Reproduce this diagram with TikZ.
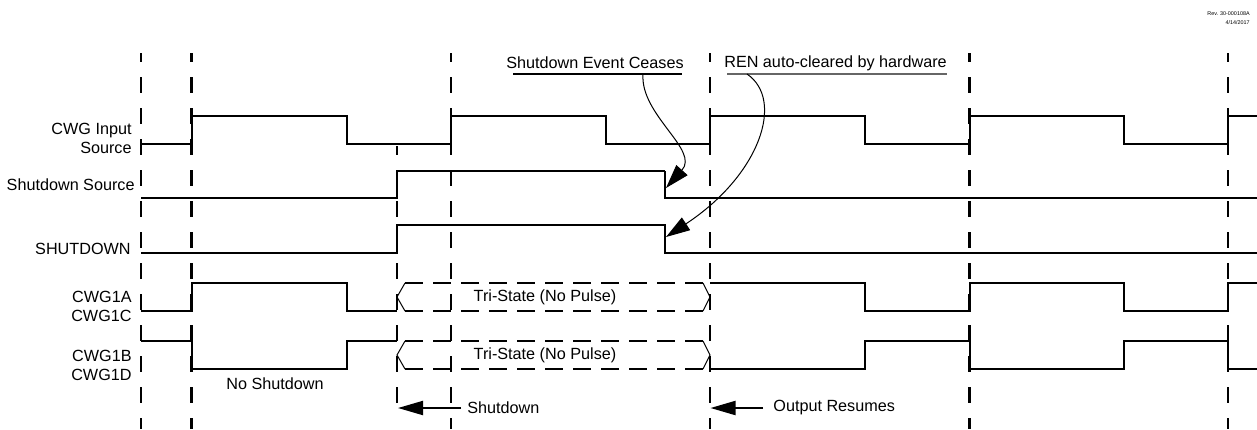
\documentclass[tikz,border=0pt]{standalone}
\usepackage{fontspec}
\setmainfont{Liberation Sans}
\usetikzlibrary{arrows.meta}
\begin{document}
\begin{tikzpicture}[x=0.5pt,y=-0.5pt,
  sig/.style={line width=1pt,line join=miter},
  sigthin/.style={line width=0.6pt},
  gridline/.style={line width=1.1pt,dash pattern=on 8pt off 7.5pt,dash phase=3.5pt},
  tridash/.style={line width=1pt,dash pattern=on 9pt off 5pt},
  triside/.style={line width=0.5pt},
  lbl/.style={font=\fontsize{8.1}{9.5}\selectfont,inner sep=0pt,align=right},
  txt/.style={font=\fontsize{8.1}{9.5}\selectfont,inner sep=0pt},
  bigarrow/.style={line width=1pt,-{Triangle[length=12.5pt,width=7pt]}},
  curvearrow/.style={line width=0.5pt,-{Triangle[length=12pt,width=7.5pt]}}
]
\useasboundingbox (0,0) rectangle (1257,429);

% revision text
\node[anchor=east,inner sep=0pt,align=right,font=\fontsize{2.7}{4.5}\selectfont] (rev) at (1250,18.5) {Rev. 30-000108A\\4/14/2017};

% vertical dashed grid lines
\draw[gridline] (141,53) -- (141,429);
\draw[gridline] (191.5,53) -- (191.5,429);
\draw[gridline] (397,146) -- (397,405);
\draw[gridline] (451,53) -- (451,429);
\draw[gridline] (710,53) -- (710,429);
\draw[gridline] (969.5,53) -- (969.5,429);
\draw[gridline] (1228,53) -- (1228,429);

% signal labels
\node[lbl,anchor=east] (lin) at (132,138.5) {CWG Input\\Source};
\node[lbl,anchor=east] (lsds) at (135,185) {Shutdown Source};
\node[lbl,anchor=east] (lsd) at (131,249) {SHUTDOWN};
\node[lbl,anchor=east] (lac) at (132,306.5) {CWG1A\\CWG1C};
\node[lbl,anchor=east] (lbd) at (132,365) {CWG1B\\CWG1D};

% CWG input source
\draw[sig] (141,144) -- (191.5,144) -- (191.5,116) -- (347,116) -- (347,144) -- (451,144) -- (451,116) -- (606,116) -- (606,144) -- (710,144) -- (710,116) -- (865,116) -- (865,144) -- (969.5,144) -- (969.5,116) -- (1124,116) -- (1124,144) -- (1228,144) -- (1228,116) -- (1257,116);

% shutdown source
\draw[sig] (141,198) -- (397,198) -- (397,171);
\draw[sigthin] (397,171) -- (665,171);
\draw[sig] (665,171) -- (665,198) -- (1257,198);

% SHUTDOWN
\draw[sig] (141,253) -- (397,253) -- (397,225) -- (665,225) -- (665,253) -- (1257,253);

% CWG1A / CWG1C
\draw[sig] (141,311) -- (191.5,311) -- (191.5,283) -- (347,283) -- (347,311) -- (397,311);
\draw[sig] (710,283) -- (865,283) -- (865,311) -- (969.5,311) -- (969.5,283) -- (1124,283) -- (1124,311) -- (1228,311) -- (1228,283) -- (1257,283);

% CWG1B / CWG1D
\draw[sig] (141,341) -- (191.5,341) -- (191.5,369) -- (347,369) -- (347,341) -- (397,341);
\draw[sig] (710,369) -- (865,369) -- (865,341) -- (969.5,341) -- (969.5,369) -- (1124,369) -- (1124,341) -- (1228,341) -- (1228,369) -- (1257,369);

% tri-state boxes
\draw[tridash] (405,283) -- (703,283);
\draw[tridash] (405,311) -- (703,311);
\draw[triside] (405,283) -- (397,297) -- (405,311);
\draw[triside] (703,283) -- (710,297) -- (703,311);
\node[txt] (tri1) at (545,297) {Tri-State (No Pulse)};

\draw[tridash] (405,341) -- (703,341);
\draw[tridash] (405,369) -- (703,369);
\draw[triside] (405,341) -- (397,355) -- (405,369);
\draw[triside] (703,341) -- (710,355) -- (703,369);
\node[txt] (tri2) at (545,355) {Tri-State (No Pulse)};

% bottom annotations
\node[txt] (nosd) at (275,384) {No Shutdown};
\node[txt,anchor=west] (sdtxt) at (467,408) {Shutdown};
\coordinate (sdtip) at (398,408);
\draw[bigarrow] (sdtxt.west) ++(-6,0) -- (sdtip);
\node[txt,anchor=west] (ortxt) at (773,408) {Output Resumes};
\coordinate (ortip) at (710.5,408);
\draw[bigarrow] (ortxt.west) ++(-10,0) -- (ortip);

% top annotations
\node[txt] (sec) at (595,63) {Shutdown Event Ceases};
\draw[line width=1pt] (513,74) -- (682,74);
\node[txt] (ren) at (835.5,63) {REN auto-cleared by hardware};
\draw[line width=1pt,black!60] (727,73.5) -- (947,73.5);

\coordinate (a1s) at (643,74);
\coordinate (a1e) at (666,188);
\draw[curvearrow] (a1s) .. controls (640,115) and (700,150) .. (a1e);
\coordinate (a2s) at (747,74);
\coordinate (a2e) at (666,237);
\draw[curvearrow] (a2s) .. controls (785,100) and (760,175) .. (a2e);
\end{tikzpicture}
\end{document}
